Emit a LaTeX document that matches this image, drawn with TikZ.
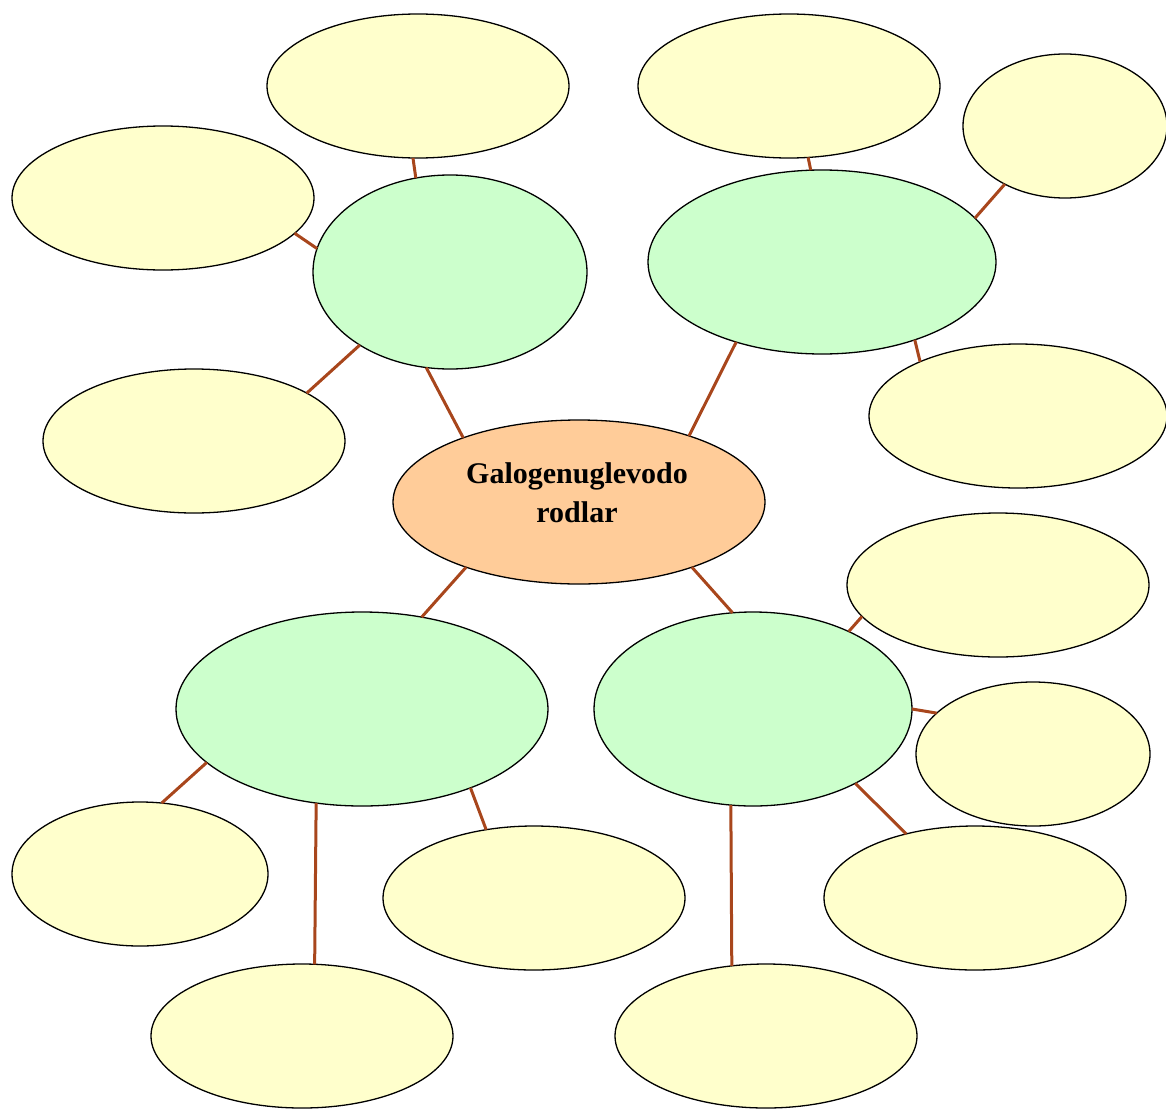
\documentclass[tikz,border=0pt]{standalone}
\usepackage{fontspec}
\setmainfont{Liberation Serif}
\usetikzlibrary{shapes.geometric}
\definecolor{leafyellow}{HTML}{FFFFCC}
\definecolor{branchgreen}{HTML}{CCFFCC}
\definecolor{rootorange}{HTML}{FFCC99}
\definecolor{linkbrown}{HTML}{A8461C}
\tikzset{
  bubble/.style={ellipse, draw=black, line width=1.3pt, inner sep=0pt, outer sep=0pt},
  leaf/.style={bubble, fill=leafyellow, minimum width=302pt, minimum height=144pt},
  branch/.style={bubble, fill=branchgreen},
  root/.style={bubble, fill=rootorange},
  link/.style={draw=linkbrown, line width=3pt},
  roottext/.style={font=\bfseries\fontsize{30}{39}\selectfont, align=center, inner sep=0pt}
}
\begin{document}
\begin{tikzpicture}[x=1pt, y=-1pt]
\useasboundingbox (0,0) rectangle (1166,1108);

% central topic
\node[root, minimum width=372pt, minimum height=164pt] (c) at (579,502) {};
\node[roottext] (ctext) at (577,493) {Galogenuglevodo\\rodlar};

% four branches
\node[branch, minimum width=274pt, minimum height=194pt] (g1) at (450,272) {};
\node[branch, minimum width=348pt, minimum height=184pt] (g2) at (822,262) {};
\node[branch, minimum width=372pt, minimum height=194pt] (g3) at (362,709) {};
\node[branch, minimum width=318pt, minimum height=194pt] (g4) at (753,709) {};

% leaves
\node[leaf] (y1) at (418,86) {};
\node[leaf] (y2) at (163,198) {};
\node[leaf] (y3) at (194,441) {};
\node[leaf] (y4) at (789,86) {};
\node[leaf, minimum width=204pt] (y5) at (1065,126) {};
\node[leaf, minimum width=298pt] (y6) at (1018,416) {};
\node[leaf] (y7) at (998,585) {};
\node[leaf, minimum width=234pt] (y8) at (1033,754) {};
\node[leaf] (y9) at (975,898) {};
\node[leaf] (y10) at (766,1036) {};
\node[leaf] (y11) at (534,898) {};
\node[leaf] (y12) at (302,1036) {};
\node[leaf, minimum width=256pt] (y13) at (140,874) {};

% connectors: centre to branches
\draw[link] (c.151) -- (g1.256);
\draw[link] (c.31) -- (g2.223);
\draw[link] (c.210) -- (g3.57);
\draw[link] (c.330) -- (g4.102);

% connectors: branches to leaves
\draw[link] (g1.110) -- (y1.266);
\draw[link] (g1.170) -- (y2.345);
\draw[link] (g1.219) -- (y3.23);
\draw[link] (g2.97) -- (y4.285);
\draw[link] (g2.16) -- (y5.224);
\draw[link] (g2.320) -- (y6.151);
\draw[link] (g4.39) -- (y7.193);
\draw[link] (g4.0) -- (y8.157);
\draw[link] (g4.324) -- (y9.137);
\draw[link] (g4.257) -- (y10.116);
\draw[link] (g3.324) -- (y11.125);
\draw[link] (g3.244) -- (y12.80);
\draw[link] (g3.199) -- (y13.73);
\end{tikzpicture}
\end{document}
